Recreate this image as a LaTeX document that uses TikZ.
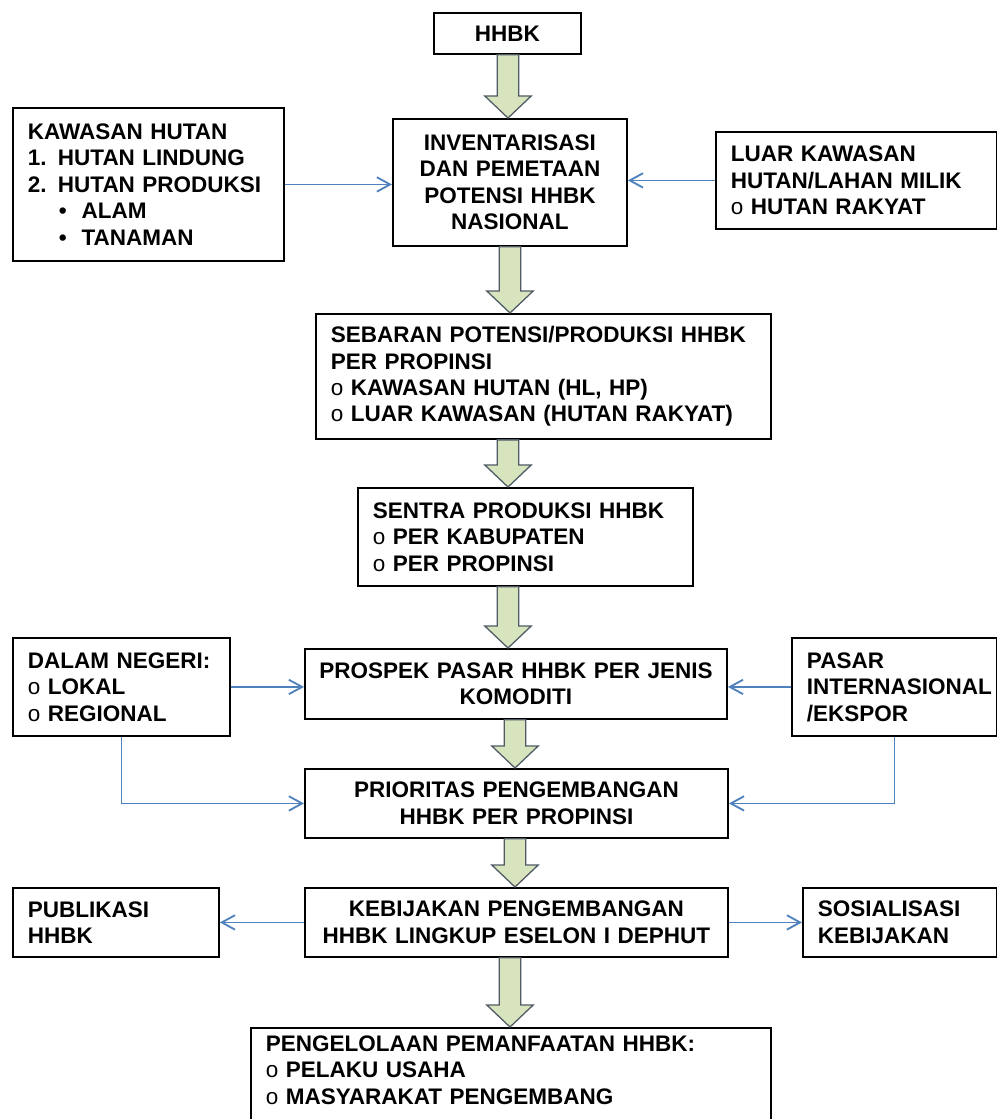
\documentclass[tikz,border=0pt]{standalone}
\usepackage{fontspec}
\setmainfont{Liberation Sans}
\usetikzlibrary{calc,arrows.meta}
\definecolor{linkblue}{RGB}{79,129,189}
\definecolor{arrowfill}{RGB}{215,228,189}
\definecolor{arrowline}{RGB}{80,90,100}
\newcommand{\obul}{{\mdseries o}\ }
\newcommand{\fatarrow}[3]{%
  \draw[fatarrow] let \p1=(#2.south), \p2=(#3.north), \p3=(#1,0) in
    (\x3-0.27cm,\y1) -- (\x3+0.27cm,\y1) -- (\x3+0.27cm,\y2+0.55cm) -- (\x3+0.58cm,\y2+0.55cm)
    -- (\x3,\y2) -- (\x3-0.58cm,\y2+0.55cm) -- (\x3-0.27cm,\y2+0.55cm) -- cycle;}

\begin{document}
\begin{tikzpicture}[x=0.025cm,y=-0.025cm,
  box/.style={draw,line width=1.3pt,anchor=north west,inner ysep=0pt,
    font=\bfseries\fontsize{16}{18.8}\selectfont},
  lbox/.style={box,inner xsep=0.375cm,align=left},
  cbox/.style={box,inner xsep=0.1cm,align=center},
  link/.style={draw=linkblue,line width=1.3pt,-{Straight Barb[length=0.33cm,width=0.36cm]}},
  fatarrow/.style={fill=arrowfill,draw=arrowline,line width=0.9pt,line join=miter}]
\useasboundingbox (0,0) rectangle (997,1119);
\fill[white] (0,0) rectangle (997,1119);
\clip (0,0) rectangle (997,1119);

\node[cbox,text width=3.475cm,minimum height=1.025cm] (hhbk) at (433,12) {HHBK};
\node[cbox,text width=5.65cm,minimum height=3.175cm] (inv) at (392,118)
  {INVENTARISASI\\DAN PEMETAAN\\POTENSI HHBK\\NASIONAL};
\node[lbox,text width=6.025cm,minimum height=3.825cm] (kawasan) at (12,107)
  {KAWASAN HUTAN\\1. HUTAN LINDUNG\\2. HUTAN PRODUKSI\\
   \hspace*{0.775cm}\textbullet\hspace{0.37cm}ALAM\\
   \hspace*{0.775cm}\textbullet\hspace{0.37cm}TANAMAN};
\node[lbox,text width=6.275cm,minimum height=2.425cm] (luar) at (715,131)
  {LUAR KAWASAN\\HUTAN/LAHAN MILIK\\\obul HUTAN RAKYAT};
\node[lbox,text width=10.625cm,minimum height=3.125cm] (sebaran) at (315,313)
  {SEBARAN POTENSI/PRODUKSI HHBK\\PER PROPINSI\\\obul KAWASAN HUTAN (HL, HP)\\\obul LUAR KAWASAN (HUTAN RAKYAT)};
\node[lbox,text width=7.625cm,minimum height=2.45cm] (sentra) at (357,487)
  {SENTRA PRODUKSI HHBK\\\obul PER KABUPATEN\\\obul PER PROPINSI};
\node[cbox,text width=10.35cm,minimum height=1.75cm] (prospek) at (304,648)
  {PROSPEK PASAR HHBK PER JENIS\\KOMODITI};
\node[lbox,text width=4.675cm,minimum height=2.45cm] (dalam) at (12,637)
  {DALAM NEGERI:\\\obul LOKAL\\\obul REGIONAL};
\node[lbox,text width=4.375cm,minimum height=2.45cm] (pasar) at (791,637)
  {PASAR\\INTERNASIONAL\\/EKSPOR};
\node[cbox,text width=10.375cm,minimum height=1.725cm] (prior) at (304,768)
  {PRIORITAS PENGEMBANGAN\\HHBK PER PROPINSI};
\node[cbox,text width=10.375cm,minimum height=1.725cm] (kebij) at (304,887)
  {KEBIJAKAN PENGEMBANGAN\\HHBK LINGKUP ESELON I DEPHUT};
\node[lbox,text width=4.4cm,minimum height=1.725cm] (publik) at (12,887)
  {PUBLIKASI\\HHBK};
\node[lbox,text width=4.1cm,minimum height=1.725cm] (sosial) at (802,887)
  {SOSIALISASI\\KEBIJAKAN};
\node[lbox,text width=12.25cm,minimum height=2.75cm] (kelola) at (250,1027)
  {PENGELOLAAN PEMANFAATAN HHBK:\\\obul PELAKU USAHA\\\obul MASYARAKAT PENGEMBANG\\\mbox{}};

\fatarrow{508}{hhbk}{inv}
\fatarrow{510}{inv}{sebaran}
\fatarrow{508}{sebaran}{sentra}
\fatarrow{508}{sentra}{prospek}
\fatarrow{515}{prospek}{prior}
\fatarrow{515}{prior}{kebij}
\fatarrow{510}{kebij}{kelola}

\draw[link] (kawasan.east) -- (kawasan.east -| inv.west);
\draw[link] (luar.west) -- (luar.west -| inv.east);
\draw[link] (dalam.east) -- (dalam.east -| prospek.west);
\draw[link] (pasar.west) -- (pasar.west -| prospek.east);
\draw[link] (dalam.south) |- (prior.west);
\draw[link] (pasar.south) |- (prior.east);
\draw[link] (kebij.west) -- (publik.east);
\draw[link] (kebij.east) -- (sosial.west);
\end{tikzpicture}
\end{document}
